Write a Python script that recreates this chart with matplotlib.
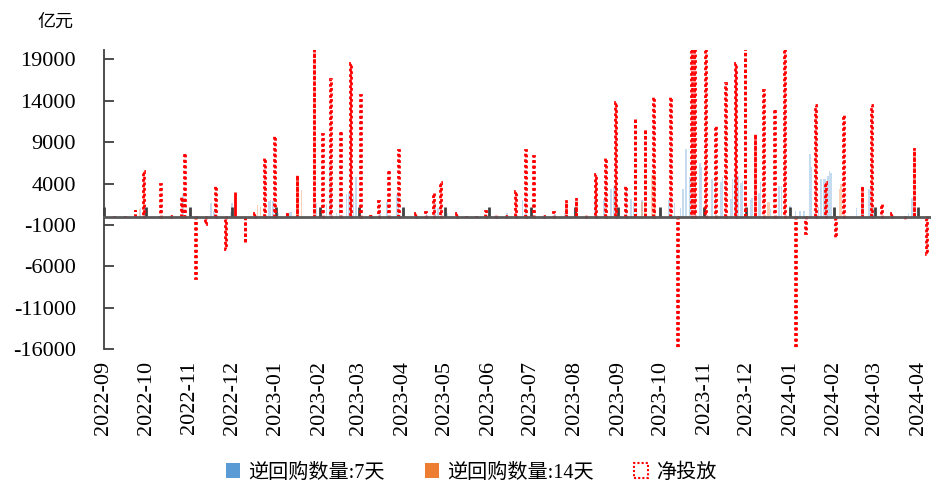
import numpy as np
import pandas as pd
import matplotlib
matplotlib.use("Agg")
import matplotlib.pyplot as plt
import matplotlib.dates as mdates
from matplotlib.patches import Patch

# net injection (weekly), 亿元
net_dates = ["2022-09-08", "2022-09-16", "2022-09-23", "2022-09-29", "2022-10-11", "2022-10-18",
             "2022-10-26", "2022-10-28", "2022-11-05", "2022-11-12", "2022-11-19", "2022-11-26",
             "2022-12-03", "2022-12-10", "2022-12-17", "2022-12-24", "2022-12-31", "2023-01-09",
             "2023-01-16", "2023-01-28", "2023-02-03", "2023-02-09", "2023-02-16", "2023-02-23",
             "2023-03-02", "2023-03-09", "2023-03-15", "2023-03-22", "2023-03-29", "2023-04-10",
             "2023-04-17", "2023-04-23", "2023-04-28", "2023-05-09", "2023-05-16", "2023-05-23",
             "2023-05-30", "2023-06-06", "2023-06-13", "2023-06-20", "2023-06-27", "2023-07-03",
             "2023-07-10", "2023-07-17", "2023-07-26", "2023-08-02", "2023-08-09", "2023-08-16",
             "2023-08-23", "2023-08-30", "2023-09-06", "2023-09-13", "2023-09-20", "2023-09-26",
             "2023-10-08", "2023-10-13", "2023-10-23", "2023-10-25", "2023-11-02", "2023-11-09",
             "2023-11-16", "2023-11-23", "2023-11-30", "2023-12-07", "2023-12-13", "2023-12-21",
             "2023-12-28", "2024-01-05", "2024-01-12", "2024-01-19", "2024-01-26", "2024-02-02",
             "2024-02-08", "2024-02-21", "2024-02-28", "2024-03-06", "2024-03-13", "2024-03-22",
             "2024-03-29", "2024-04-07"]
net_vals = [100, 100, 800, 5500, 3950, 100,
            2400, 7650, -7400, -900, 3750, -3850,
            2950, -3200, 400, 7100, 9800, 570,
            5000, 20500, 9950, 16600, 10400, 18600,
            14700, 330, 1900, 5700, 8050, 480,
            600, 2830, 4230, 450, 100, 100,
            730, 250, 100, 3150, 8050, 7350,
            100, 600, 2000, 2300, 150, 5150,
            7150, 13900, 3650, 11900, 10550, 14450,
            14500, -16500, 21000, 21000, 21000, 10900,
            16200, 18600, 21000, 10000, 15300, 13050,
            21000, -16500, -2000, 13450, 4150, -2400,
            12300, 3650, 13500, 1570, 470, -290,
            8330, -4500]

# 7-day reverse repo (daily)
r7_dates = ["2022-09-27", "2022-09-30", "2022-10-27", "2022-11-16", "2022-11-18", "2022-11-30",
            "2022-12-01", "2022-12-27", "2022-12-28", "2022-12-30", "2023-01-03", "2023-01-11",
            "2023-01-12", "2023-01-30", "2023-02-06", "2023-02-08", "2023-02-09", "2023-02-13",
            "2023-02-15", "2023-02-20", "2023-02-22", "2023-02-25", "2023-02-27", "2023-03-16",
            "2023-03-21", "2023-03-28", "2023-03-29", "2023-04-18", "2023-04-24", "2023-04-26",
            "2023-05-03", "2023-06-14", "2023-06-25", "2023-06-27", "2023-06-28", "2023-07-18",
            "2023-07-25", "2023-08-15", "2023-08-22", "2023-08-27", "2023-08-29", "2023-09-07",
            "2023-09-10", "2023-09-12", "2023-09-14", "2023-09-18", "2023-10-07", "2023-10-11",
            "2023-10-15", "2023-10-17", "2023-10-19", "2023-10-22", "2023-10-26", "2023-10-29",
            "2023-10-30", "2023-11-06", "2023-11-07", "2023-11-09", "2023-11-13", "2023-11-14",
            "2023-11-20", "2023-11-21", "2023-11-23", "2023-11-25", "2023-11-27", "2023-11-28",
            "2023-12-04", "2023-12-05", "2023-12-10", "2023-12-11", "2023-12-18", "2023-12-24",
            "2023-12-26", "2024-01-01", "2024-01-05", "2024-01-08", "2024-01-11", "2024-01-15",
            "2024-01-16", "2024-01-21", "2024-01-23", "2024-01-25", "2024-01-26", "2024-01-28",
            "2024-01-29", "2024-01-30", "2024-02-17", "2024-02-21", "2024-02-22", "2024-02-26",
            "2024-02-27", "2024-02-29", "2024-03-25", "2024-03-27", "2024-03-28"]
r7_vals = [1100, 1200, 2700, 1700, 700, 600,
           1600, 1900, 2000, 1900, 400, 600,
           600, 1600, 1500, 6300, 4000, 500,
           2000, 2700, 3000, 2800, 4800, 800,
           1800, 2700, 2700, 450, 1700, 1000,
           450, 450, 2000, 2400, 1000, 300,
           450, 2100, 2200, 3300, 3600, 3600,
           2100, 1800, 1000, 2000, 2000, 1600,
           1000, 3400, 8200, 4800, 5000, 6500,
           6000, 4600, 4600, 4400, 4200, 4800,
           2100, 4600, 5000, 4900, 4100, 4300,
           2000, 2300, 2900, 4200, 900, 3700,
           3700, 1300, 700, 700, 700, 7600,
           6000, 1200, 4600, 4600, 4500, 4900,
           5500, 5300, 1000, 2200, 2200, 3400,
           3800, 1000, 400, 2300, 2300]

# 14-day reverse repo (daily)
r14_dates = ["2022-09-26", "2022-12-19", "2022-12-21", "2023-01-16", "2023-01-17", "2023-01-19",
             "2023-09-18", "2023-09-20", "2023-09-25", "2023-09-27", "2023-12-16", "2023-12-17",
             "2024-02-05", "2024-02-06"]
r14_vals = [900, 1400, 1200, 4500, 4600, 3200,
            1800, 1800, 5000, 5000, 1800, 1800,
            3300, 4000]

net_d = pd.to_datetime(net_dates)
r7_d = pd.to_datetime(r7_dates)
r14_d = pd.to_datetime(r14_dates)

plt.rcParams["font.family"] = ["Liberation Serif", "Noto Sans CJK SC"]
plt.rcParams["axes.unicode_minus"] = False

fig = plt.figure(figsize=(9.31, 4.86), dpi=100)
ax = fig.add_axes([0.1117, 0.2815, 0.8883, 0.615])

ax.bar(r7_d, r7_vals, width=1.0, color="#5b9bd5", alpha=0.35, zorder=1)
ax.bar(r14_d, r14_vals, width=1.0, color="#ed7d31", alpha=0.35, zorder=1)
ax.bar(net_d, net_vals, width=0.5, facecolor="none", edgecolor="red",
       linestyle=(0, (1, 1)), linewidth=2.0, zorder=3)

ax.set_xlim(pd.Timestamp("2022-09-01"), pd.Timestamp("2024-04-10"))
ax.set_ylim(-16000, 20100)
ax.set_yticks(np.arange(-16000, 19001, 5000))

months = pd.date_range("2022-09-01", "2024-04-01", freq="MS")
ax.set_xticks(months)
ax.xaxis.set_major_formatter(mdates.DateFormatter("%Y-%m"))

for s in ["top", "right"]:
    ax.spines[s].set_visible(False)
ax.spines["bottom"].set_position(("data", 0))
ax.spines["bottom"].set_color("#595959")
ax.spines["bottom"].set_linewidth(2)
ax.spines["bottom"].set_zorder(4)
ax.spines["left"].set_color("#404040")
ax.spines["left"].set_linewidth(1.3)

ax.tick_params(axis="x", direction="in", length=7, width=2, color="#404040",
               pad=104, labelsize=16, rotation=90)
ax.tick_params(axis="y", direction="in", length=7, width=1.3, color="#404040",
               pad=20, labelsize=16)
for lab in ax.get_xticklabels():
    lab.set_va("top")

fig.text(0.06, 0.955, "亿元", family=["Noto Sans CJK SC"], fontsize=13,
         ha="center", va="center")

handles = [Patch(facecolor="#5b9bd5", edgecolor="none"),
           Patch(facecolor="#ed7d31", edgecolor="none"),
           Patch(facecolor="none", edgecolor="red", linestyle=(0, (1, 1)), linewidth=1.5)]
fig.legend(handles, ["逆回购数量:7天", "逆回购数量:14天", "净投放"],
           loc="center", bbox_to_anchor=(0.506, 0.027), ncol=3, frameon=False,
           fontsize=14.5, handlelength=0.7, handleheight=0.7, handletextpad=0.4,
           columnspacing=2.0)

fig.savefig("out.png", dpi=100)
